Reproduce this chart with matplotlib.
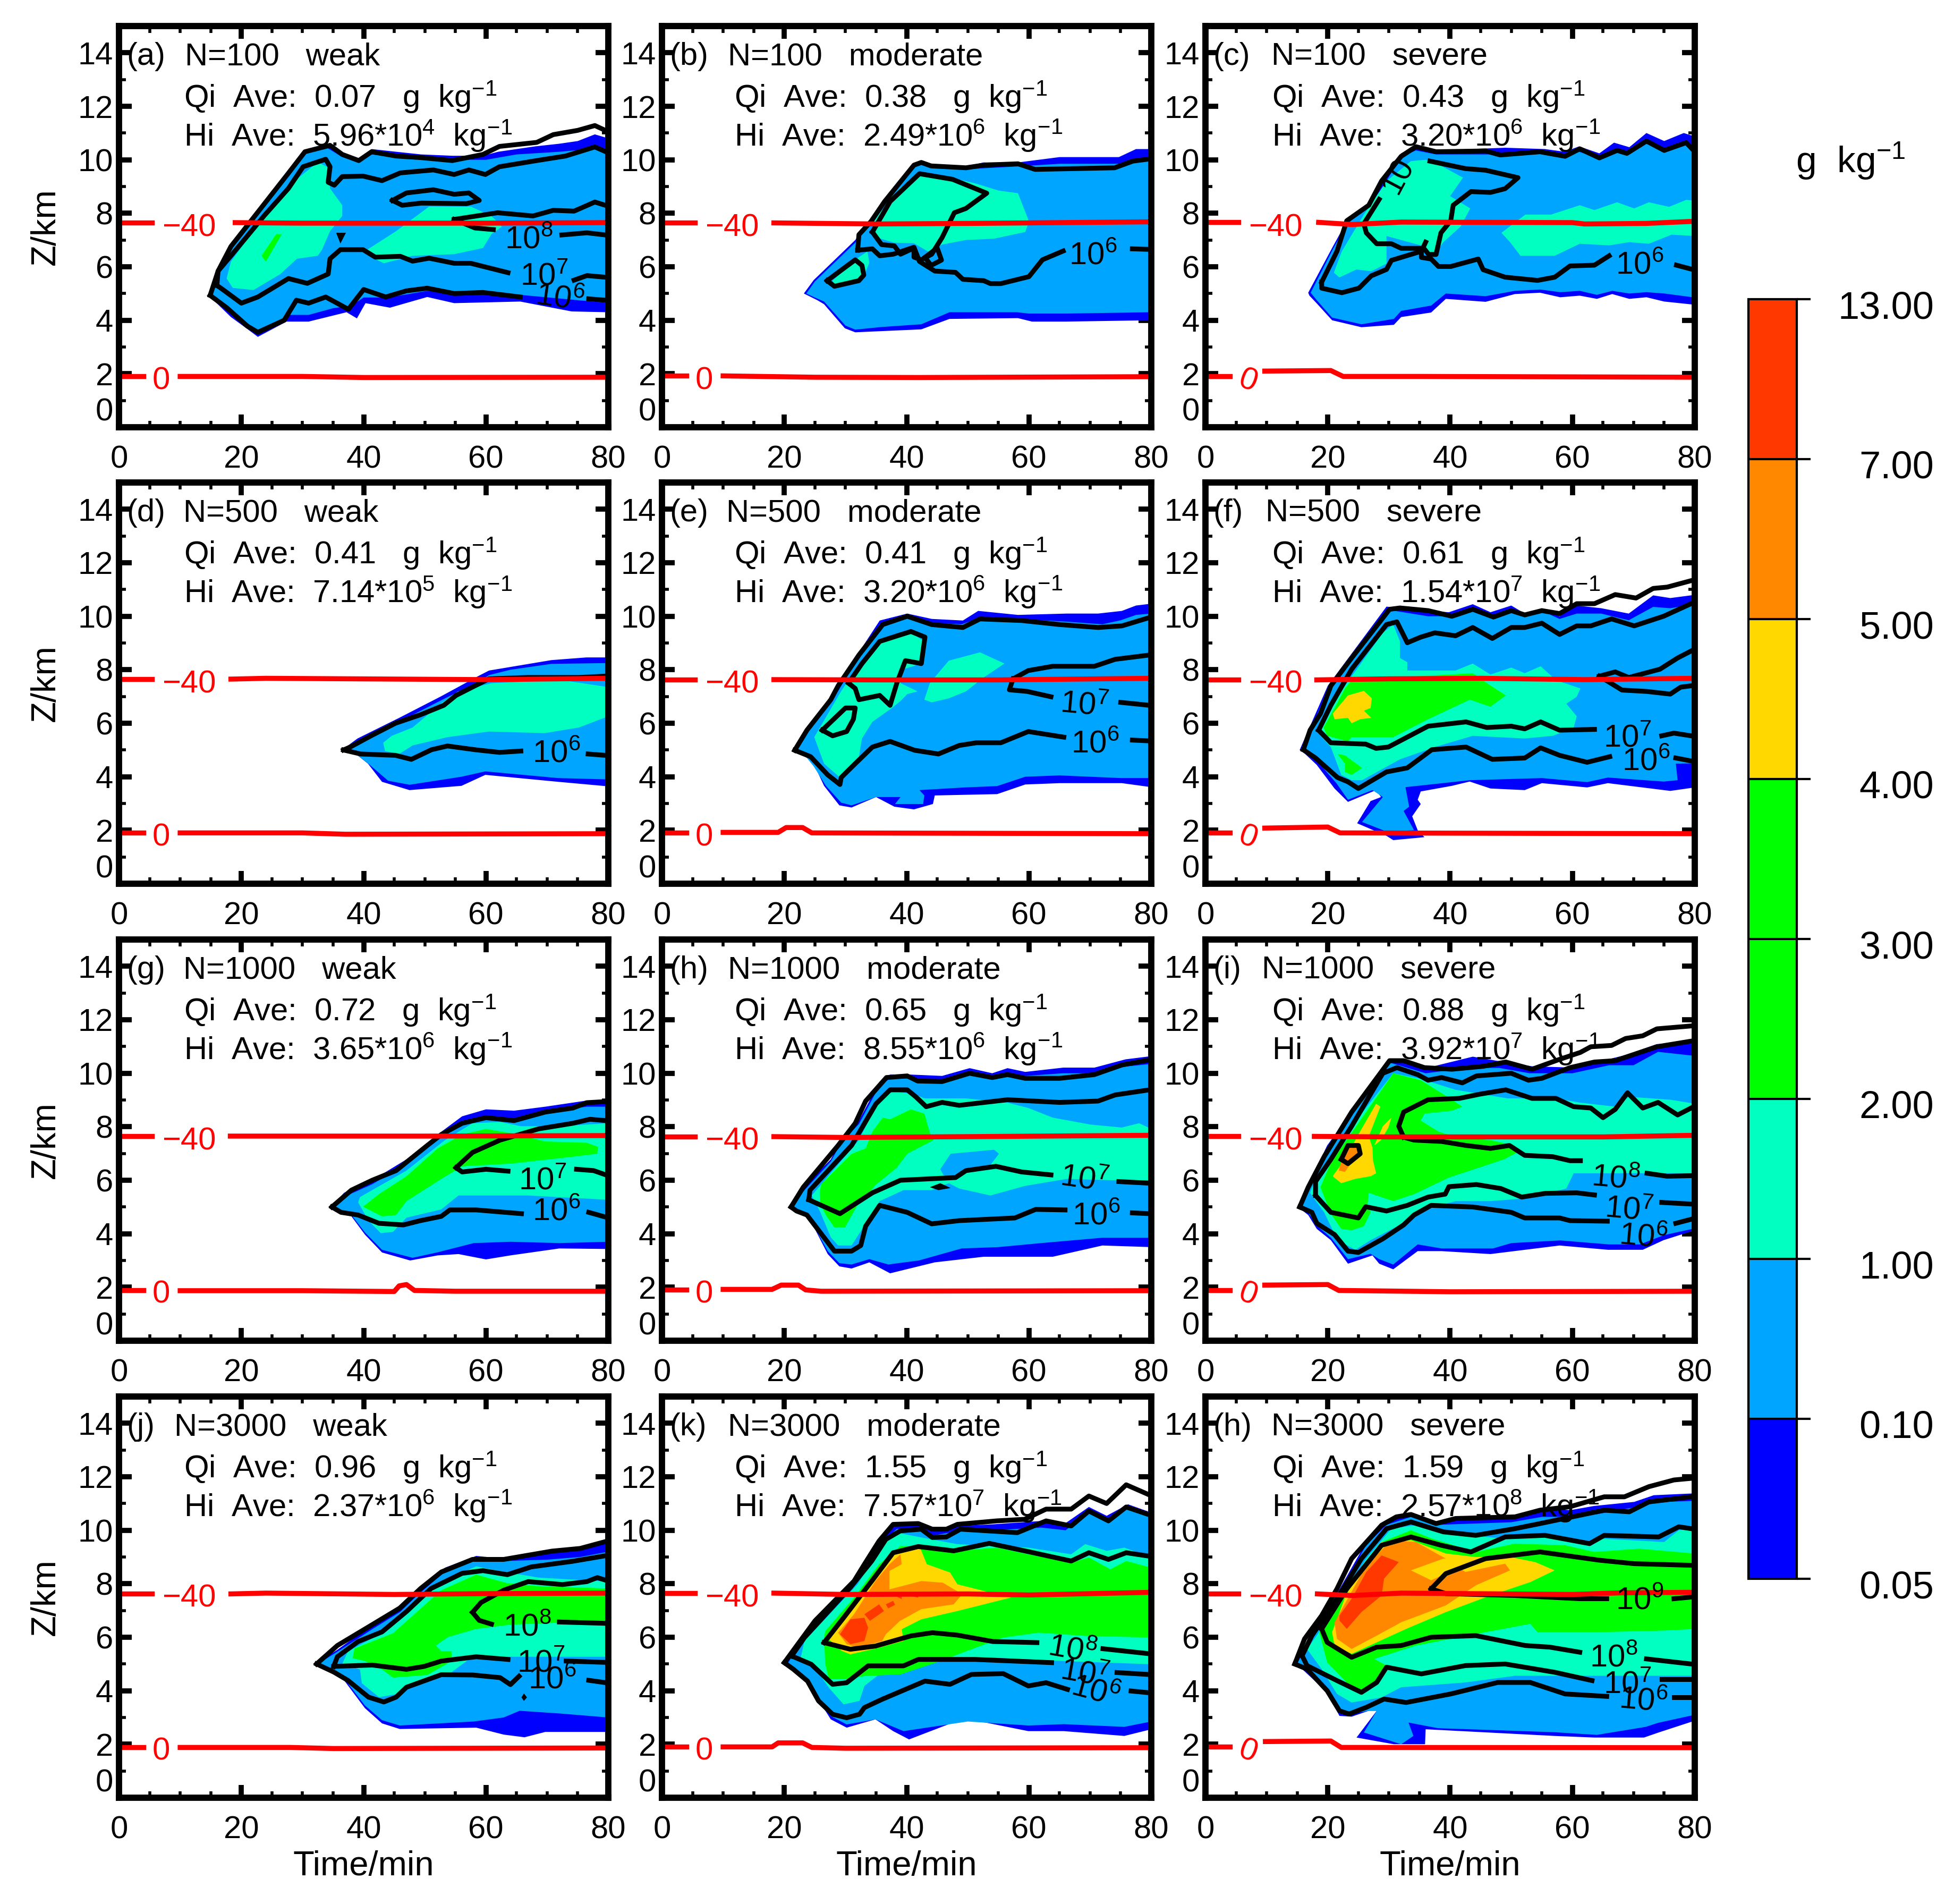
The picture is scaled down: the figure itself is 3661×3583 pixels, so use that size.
import matplotlib
matplotlib.use("Agg")
import matplotlib.pyplot as plt
from matplotlib.cm import ScalarMappable
from matplotlib.colors import BoundaryNorm, ListedColormap
from matplotlib.transforms import ScaledTranslation

plt.rcParams["font.family"] = ["Liberation Sans", "DejaVu Sans"]
plt.rcParams["mathtext.fontset"] = "custom"
plt.rcParams["mathtext.rm"] = "Liberation Sans"
plt.rcParams["mathtext.default"] = "regular"

# colour scale
q_levels = [0.05, 0.10, 1.00, 2.00, 3.00, 4.00, 5.00, 7.00, 13.00]
q_colors = ["#0000ff", "#00a5ff", "#00ffc0", "#00ff00", "#00ff00", "#ffd800", "#ff8800", "#ff3800"]

# panel text
titles = ["(a)", "(b)", "(c)", "(d)", "(e)", "(f)", "(g)", "(h)", "(i)", "(j)", "(k)", "(h)"]
n_values = ["100", "100", "100", "500", "500", "500", "1000", "1000", "1000", "3000", "3000", "3000"]
strengths = ["weak", "moderate", "severe"] * 4
qi_ave = ["0.07", "0.38", "0.43", "0.41", "0.41", "0.61", "0.72", "0.65", "0.88", "0.96", "1.55", "1.59"]
hi_mant = ["5.96", "2.49", "3.20", "7.14", "3.20", "1.54", "3.65", "8.55", "3.92", "2.37", "7.57", "2.57"]
hi_exp = ["4", "6", "6", "5", "6", "7", "6", "6", "7", "6", "7", "8"]

# (a) N=100 weak
a_q005 = [(14.5,4.93),(16.2,5.9),(18.3,6.85),(23,8.2),(27.7,9.6),(30,10.3),(34,10.6),(36.5,10.25),(39.2,10.05),(41.3,10.4),(45.3,10.3),(49.4,10.2),(54.5,10.15),(59.5,10.15),(62,10.3),(68,10.5),(72,10.6),(75,10.7),(77.8,10.95),(80,10.8),(80,4.3),(74,4.33),(65.6,4.7),(54.8,4.64),(50.4,4.87),(44.3,4.47),(40.3,4.64),(38.9,4.07),(37.2,4.3),(31,3.95),(27.4,3.95),(22.7,3.38),(21,3.67),(18.3,4.12),(15.2,4.81)]
a_q01 = [(15,4.9),(16.2,5.8),(18.3,6.75),(23,8.1),(27.7,9.5),(30,10.2),(34,10.45),(36.5,10.1),(39,9.95),(41.3,10.2),(45.3,10.1),(50,10),(55,10),(60,10),(65,10.2),(72,10.3),(77,10.4),(80,10.35),(80,4.65),(75,4.75),(65.6,4.95),(55,5),(50.4,5.1),(44,4.85),(40,4.85),(38,4.55),(35,4.45),(31,4.2),(28,4.2),(23,3.5),(21,3.8),(18,4.3),(15.5,4.8)]
a_q1a = [(17.6,5.56),(18.3,6.19),(23.7,7.9),(29.1,9.28),(32.5,9.91),(34.5,9.68),(34.5,8.93),(36.5,8.3),(36.5,7.9),(34.5,7.33),(33.2,6.64),(32.5,6.41),(29.1,6.3),(26.4,5.73),(22,5.13),(18.6,5.21)]
a_q1b = [(40.6,6.64),(45.3,7.33),(50.7,8.25),(57.5,8.25),(60.9,7.9),(62.6,7.5),(60.9,7.22),(59.5,6.7),(54.8,6.47),(48,6.41),(43.3,6.13),(41.3,6.36)]
a_q2 = [(23.3,6.41),(25.7,7.22),(26.6,7.22),(24,6.19)]
a_h6up = [(14.9,4.93),(16.2,5.84),(18.3,6.76),(23,8.13),(27.7,9.5),(30.4,10.3),(34.5,10.54),(36.5,10.2),(39.2,9.97),(41.3,10.3),(45.3,10.14),(49.4,10.08),(54.5,9.97),(59.5,10.2),(62.2,10.5),(68.3,10.65),(71,10.94),(75,11.1),(77.8,11.28),(79.5,11.1)]
a_h6lo = [(14.9,4.93),(17.6,4.47),(21,3.78),(22.7,3.55),(27,4),(29,4.75),(31,4.64),(33.8,4.87),(37.5,4.41),(40,5.15),(43.6,4.87),(47,5.1),(50.4,5.2),(54.8,5),(59.5,5.04),(65.6,4.87)]
a_h6end = [(76.8,4.8),(79.5,4.75)]
a_h7up = [(16,5.3),(16.2,5.84),(18.3,6.41),(23.7,7.9),(27.7,8.93),(30.1,9.74),(33.8,10.02),(34.5,9.74),(34.2,9.16),(35.2,9.05),(36.5,9.37),(39.9,9.39),(43,9.22),(46,9.51),(51.4,9.62),(54.8,9.45),(57.2,9.62),(59.9,9.45),(62.2,9.74),(68.3,9.97),(73,10.14),(77.8,10.48),(79.5,10.31)]
a_h7lo = [(16,5.3),(16.6,5.21),(20,4.64),(22.7,4.87),(27.7,5.56),(30.8,5.38),(34.2,5.73),(34.5,6.3),(36.2,6.64),(39.9,6.64),(41.9,6.36),(46,6.39),(48,6.21),(50.7,6.32),(54.8,6.13),(57.5,6.13),(63.6,5.78)]
a_h7end = [(74.4,5.5),(76.5,5.67),(79.5,5.61)]
a_h8up = [(54.8,7.77),(61.9,8.02),(67.7,7.9),(71,8.11),(74.4,8.08),(77.8,8.42),(79.5,8.3)]
a_h8lo = [(54.8,7.77),(58.2,7.45),(61.2,7.39)]
a_h8end = [(72.4,7.19),(76.5,7.27),(79.5,7.19)]
a_loop = [(44.7,8.48),(47,8.76),(51.4,8.88),(54.8,8.71),(57.2,8.76),(58.9,8.48),(56.8,8.36),(49.4,8.38),(46.3,8.3),(44.7,8.48)]
a_blob = [(35.5,7.27),(37.1,7.27),(36.2,6.87)]
a_r40 = [(19,7.65),(30,7.63),(60,7.63),(80,7.65)]
a_r0 = [(10,1.9),(30,1.9),(40,1.86),(80,1.87)]

# (b) N=100 moderate
b_q005 = [(23.2,5),(24.8,5.5),(31.6,7),(36.1,8.45),(41.2,9.85),(42.4,9.95),(44,9.8),(49.7,9.75),(52.6,9.9),(58.2,9.9),(65,10.1),(74.7,10.1),(77.5,10.4),(80,10.4),(80,4),(66,3.95),(60.5,3.95),(58.2,4.08),(47,4.05),(42.4,3.66),(31.6,3.55),(29.9,3.7),(26.5,4.6),(25.4,4.75)]
b_q01 = [(23.6,5),(25,5.45),(31.6,6.9),(36.1,8.35),(41.2,9.75),(42.4,9.85),(44,9.7),(50,9.65),(58,9.75),(65,9.85),(75,9.85),(78,10.05),(80,10.1),(80,4.3),(66,4.25),(60,4.25),(58,4.3),(47,4.3),(42.4,3.85),(36,3.75),(31.6,3.65),(30,3.8),(26.5,4.7),(25,4.85)]
b_q1a = [(34.4,7.6),(35.6,8),(39,8.96),(42.4,9.4),(47,9.35),(51.5,9.1),(55,8.85),(58.2,8.75),(60,7.7),(59.4,7.3),(54.3,7.05),(49.7,7),(45.8,6.83),(43.5,6.57),(41.2,6.88),(38,6.9),(35,7.1)]
b_q1b = [(27.9,5.48),(32.2,6.36),(33.6,6.57),(33.9,6.15),(32.7,5.48),(28.2,5.27)]
b_h6up = [(32,6.62),(32.2,7.2),(34.2,7.7),(36.4,8.44),(41.2,9.8),(42.4,9.9),(44,9.77),(49.7,9.7),(52.6,9.8),(58.2,9.85),(61,9.64),(74,9.7),(77,9.95),(79.7,10.03)]
b_h6lo = [(32,6.62),(34.4,6.67),(35.6,6.41),(37.8,6.47),(41.2,6.73),(42.1,6.2),(44.6,5.84),(48,5.79),(49.2,5.53),(52.6,5.48),(53.7,5.37),(55.4,5.37),(60,5.63),(62.2,6.26),(65.6,6.59)]
b_h6end = [(76.9,6.67),(79.7,6.65)]
b_h7a = [(34.4,7.3),(37.3,8.44),(42.1,9.48),(47.5,9.27),(53.1,8.75),(49.7,8.18),(47.8,8.02),(45.8,7.09),(44.1,6.47),(42.4,6.26),(41.2,6.36),(41.2,6.7),(39,6.47),(38,6.78),(35.9,6.83),(34.4,7.3)]
b_h7b = [(43,6.35),(45,6.7),(45.7,6.25),(44,6.05),(43,6.35)]
b_h7c = [(27,5.48),(31.6,6.26),(32.7,6.05),(33,5.69),(32.2,5.48),(28.2,5.27),(27,5.48)]
b_r40 = [(18.3,7.64),(35,7.6),(50,7.62),(80,7.68)]
b_r0 = [(10,1.92),(25,1.87),(42,1.86),(80,1.89)]

# (c) N=100 severe
c_q005 = [(16.8,5.03),(20.7,6.7),(23.1,7.7),(27.1,8.4),(32,10.24),(34.4,10.5),(37.7,10.35),(49,10.45),(55.5,10.4),(58.7,10.3),(61.1,10.5),(64.4,10.24),(66.8,10.64),(69.3,10.47),(72.1,11),(75,10.7),(78.2,11),(80,10.87),(80,4.58),(75,4.7),(72.1,4.86),(69.3,4.8),(66.5,4.98),(64,4.8),(61.2,4.92),(58,4.86),(54.7,5.03),(50.6,4.98),(45.8,4.69),(39.3,4.8),(36.9,4.29),(32,4.12),(30.8,3.83),(25.5,3.74),(20.7,4),(18.2,4.63),(17,4.92)]
c_q01 = [(17.2,5.03),(20.7,6.6),(23.1,7.6),(27.1,8.3),(32,10.1),(34.4,10.35),(37.7,10.2),(49,10.2),(55.5,10.25),(58.7,10.15),(61.1,10.3),(64.4,10.05),(66.8,10.3),(69.3,10.2),(72.1,10.6),(75,10.35),(78.2,10.6),(80,10.4),(80,4.85),(75,5),(72.1,5.05),(69.3,5),(66.5,5.1),(64,4.95),(61.2,5.1),(58,5.05),(54.7,5.15),(50.6,5.1),(45.8,4.9),(39.3,5),(36.9,4.55),(32,4.35),(30.8,4.05),(25.5,3.85),(20.7,4.1),(18.2,4.75)]
c_q1a = [(21,5.78),(22.3,6.58),(25.9,7.95),(29.6,9.2),(33.6,9.95),(36,10),(38.5,9.78),(42.1,9.33),(40,8.64),(43.3,8.18),(41.7,7.5),(38.9,6.92),(37.3,6.41),(35.2,6.8),(29.6,7.15),(29.6,6.12),(27.1,5.83),(24.7,5.9),(21.9,5.6)]
c_q1b = [(48.4,7.27),(52.3,7.95),(56.5,7.95),(61.2,8.3),(63.6,8.12),(67.3,8.41),(70.1,8.18),(72.5,8.41),(75.8,8.24),(78.6,8.5),(80,8.47),(80,7.15),(76.2,7.2),(72.5,6.86),(69.3,6.92),(66,6.8),(61.2,6.86),(57.1,6.41),(51.5,6.41),(49.8,6.92)]
c_h6up = [(19,5.43),(21.5,6.58),(23.1,7.72),(26.7,8.3),(28.8,9.21),(32,10.13),(34.4,10.49),(37.7,10.3),(45.8,10.33),(48.2,10.18),(54.7,10.3),(58.8,10.13),(61.2,10.41),(64.4,10.07),(67.3,10.35),(68.9,10.24),(72.1,10.7),(75,10.35),(78.6,10.64),(79.8,10.35)]
c_h6lo = [(19,5.43),(19,5.2),(22.3,5.03),(25.1,5.2),(27.1,5.66),(29.6,5.9),(30.4,6.24),(35.3,6.58),(36,6.92)]
c_h7 = [(36.7,9.95),(42.5,9.67),(45.8,9.61),(51.1,9.33),(49,8.92),(46.6,8.78),(43.4,8.81),(40.5,8.3),(40.1,7.72),(38.5,7.27),(37.7,6.46),(36.5,6.46),(35.7,6.69),(32,6.69),(30.4,6.86),(28,6.86),(26.3,7.27),(25.9,7.61),(28.4,8.52)]
c_h6b = [(35.3,6.58),(35.3,6.35),(36.9,6.29),(38.1,6.01),(40.1,6.01),(44.6,6.29),(45.4,5.89),(49,5.61),(54.3,5.49),(57.1,5.61),(59.6,6.03),(63.6,6.06),(66,6.41)]
c_h6end = [(77,6.06),(79.8,5.89)]
c_r40 = [(18.5,7.66),(24,7.58),(32,7.67),(60,7.65),(62,7.6),(72,7.62),(80,7.7)]
c_r0 = [(9.7,2.1),(20.5,2.12),(22.5,1.9),(35,1.9),(80,1.87)]

# (d) N=500 weak
d_q005 = [(36.4,4.99),(39,5.43),(45.8,6.2),(52.6,7),(58.8,7.77),(60.5,7.97),(63.9,8.1),(70.7,8.36),(76.4,8.46),(80,8.46),(80,3.64),(71.8,3.81),(59.9,4.07),(56,3.66),(47.5,3.5),(43,3.81),(40.7,4.49),(39,4.8)]
d_q01 = [(37,5),(39,5.3),(45.8,6.05),(52.6,6.85),(58.8,7.55),(60.5,7.8),(64,8),(70.7,8.22),(80,8.25),(80,3.9),(71.8,3.95),(59.9,4.2),(56,4),(47.5,3.7),(44,3.85),(40.7,4.5),(39,4.8)]
d_q1 = [(43.2,5.27),(44.6,5.53),(48,5.84),(52.6,6.73),(55.4,7.19),(61,7.5),(72.4,7.61),(80,7.35),(80,6.26),(75.2,5.84),(69.6,5.63),(60.5,5.69),(53.7,5.48),(48,5.17),(45.8,4.85),(43.5,4.96)]
d_h6up = [(36.7,5),(37.8,5.11),(41.2,5.53),(45.2,6),(49.2,6.31),(53.1,6.67),(55.1,7.04),(58.2,7.4),(60.5,7.66),(66.7,7.71),(75.2,7.71),(79.5,7.76)]
d_h6lo = [(36.7,5),(39.5,4.85),(45.2,4.8),(47.8,4.65),(51.1,5.01),(53.7,5.15),(58.2,5.01),(62.2,4.91),(65.7,4.96)]
d_h6end = [(76.7,4.85),(79.5,4.8)]
d_r40 = [(18.3,7.65),(24,7.68),(60,7.63),(80,7.68)]
d_r0 = [(10,1.9),(30,1.9),(37,1.85),(80,1.87)]

# (e) N=500 moderate
e_q005 = [(21.4,5),(23.7,5.84),(28.8,7.3),(32.2,8.65),(35.6,9.84),(40.1,10.1),(44.1,9.9),(49.2,9.84),(51.7,10.2),(58.2,10.05),(66.2,10.1),(71.3,10.1),(75.2,10.2),(77.5,10.4),(80,10.47),(80,3.61),(75.2,3.76),(65,3.76),(59.4,3.71),(54.8,3.35),(44.6,3.3),(44.3,2.98),(41.2,2.78),(38,2.88),(35,3.24),(31,2.85),(29,2.93),(26.5,3.66),(24.8,4.49),(23.7,4.8)]
e_q01 = [(22,5),(23.7,5.7),(28.8,7.2),(32.2,8.5),(35.6,9.7),(40.1,10),(44,9.75),(49,9.7),(52,9.95),(58,9.9),(66,9.8),(72,9.7),(75,9.85),(77.5,10.05),(80,10.1),(80,3.95),(75,3.95),(65,4.05),(59.4,4),(54.8,3.65),(49.5,3.6),(42.1,3.5),(42.9,3.3),(42.7,2.98),(38.1,2.98),(39,3.24),(35,3.24),(31,2.93),(29.3,3.03),(26.8,3.66),(24.8,4.39),(23.7,4.7)]
e_q1a = [(24.9,5.48),(29.3,7.2),(32.7,8.34),(35.6,9.17),(40.7,9.38),(42.9,9.06),(42.4,8.23),(39.5,8.02),(39,7.5),(41.8,7.19),(40.1,7.09),(39,6.83),(37.6,6.57),(34.4,6.05),(32.7,5.43),(32.2,4.75),(29.1,3.97),(26.5,4.49)]
e_q1b = [(42.9,6.88),(43.8,7.5),(46.9,8.34),(52,8.65),(56,8.23),(52.6,7.71),(49.7,7.19),(46.9,6.93),(44.1,6.78)]
e_h6up = [(21.7,4.99),(23.7,5.74),(27.6,6.88),(28.8,7.4),(32.2,8.55),(36.1,9.69),(40.1,10),(44.1,9.69),(49.2,9.58),(52,9.9),(58.8,9.84),(65,9.69),(71.3,9.58),(75.2,9.64),(79.7,9.95)]
e_h6lo = [(21.7,4.99),(24.3,4.75),(27.1,4.07),(29.1,3.71),(29.3,3.97),(31.6,4.49),(34.4,5.11),(37.3,5.32),(41.3,4.99),(45.2,4.85),(48.6,5.17),(51.4,5.27),(55.4,5.27),(59.9,5.69),(65.7,5.48)]
e_h6end = [(76.9,5.37),(79.7,5.34)]
e_h7a = [(30.5,7.5),(32.7,8.23),(35.6,9.06),(40.7,9.43),(43,9.22),(42.4,8.23),(39.8,8.34),(38.4,7.5),(37.3,6.67),(35.6,7.04),(32.2,6.88),(31.6,7.3),(30.5,7.5)]
e_h7b = [(26.2,5.74),(30,6.57),(31.6,6.57),(31.3,6.15),(30.2,5.69),(27.9,5.53),(26.2,5.74)]
e_h7up = [(57.4,7.66),(59.9,7.97),(63.9,8.13),(70.7,8.13),(74.1,8.39),(79.7,8.55)]
e_h7lo = [(57.4,7.66),(56.8,7.25),(59.7,7.19),(63.6,6.99)]
e_h7end = [(75,6.78),(79.7,6.67)]
e_r40 = [(18.3,7.63),(35,7.62),(55,7.62),(80,7.68)]
e_r0 = [(10,1.92),(19,1.92),(20.3,2.1),(23,2.1),(24.5,1.9),(80,1.87)]

# (f) N=500 severe
f_q005 = [(15.4,5),(20,7.4),(29.6,10.36),(36.4,10.2),(39.8,10.15),(43.7,10.45),(46.6,10.15),(50,10.4),(52.2,10.1),(55,10.3),(57.9,10),(60.7,10.4),(64.7,10.3),(69.2,10.1),(73.2,10.78),(76,10.68),(80,10.8),(80,3.6),(76,3.47),(65.8,3.76),(62.4,3.6),(55,3.76),(52.2,3.5),(46.6,3.56),(43.2,3.82),(40.3,3.66),(35.2,3.45),(34.7,3.14),(35.2,2.98),(33.8,2.52),(34.7,2),(35.8,1.74),(30.7,1.63),(29.6,1.79),(24.8,2.26),(27,3.09),(28.7,3.24),(27.9,3.5),(23.3,3.06),(21.1,3.56),(18.2,4.44),(16.3,4.85)]
f_q01 = [(15.9,5),(20,7.3),(29.6,10.25),(36.4,10),(39.8,10),(43.7,10.25),(46.6,10),(50,10.2),(52.2,10),(55,10.2),(57.9,9.9),(60.7,10.1),(64.7,10.1),(69.2,9.85),(73.2,10.35),(76,10.3),(80,10.45),(80,4.5),(76.9,4.49),(77.2,3.87),(74.9,3.82),(65.8,3.97),(62.4,3.8),(55,3.95),(43.2,3.87),(32.7,3.61),(33.3,2.88),(32.4,2.72),(34.1,2),(29.6,1.95),(25.6,2.31),(29,3.24),(27.3,3.5),(23.3,3.14),(21.4,3.76),(18.2,4.6)]
f_q1 = [(18.2,5.74),(19.9,6.47),(29,9.38),(30.7,9.69),(31.8,9.06),(31.8,8.44),(33,8.28),(33,7.97),(40.9,7.97),(43.7,8.23),(46.6,7.82),(50,8.08),(52.2,7.87),(54.8,8.13),(57.3,7.61),(61.3,7.3),(60.7,6.99),(59,6.73),(60.7,6.26),(60.2,5.84),(56.8,5.53),(52.2,5.43),(43.7,5.53),(37.5,5.11),(31.8,4.65),(25.6,3.87),(23.9,3.87),(22.2,4.07),(20.5,5.11),(18.8,5.53)]
f_q2a = [(19.3,5.84),(21.1,6.57),(22.8,7.3),(23.9,7.61),(43.7,7.87),(46,7.5),(49.1,7.04),(46.6,6.62),(43.2,6.88),(36.4,6.15),(30.7,5.48),(23.9,5.48),(23.3,5.32),(19.9,5.53)]
f_q2b = [(21.6,4.85),(22.8,4.8),(25.6,4.33),(23.9,4.07),(22.8,4.18),(22.8,4.49)]
f_q4 = [(20.8,6.36),(23.3,7.04),(25.9,7.21),(27.2,6.93),(27,6.57),(25.9,6.47),(27.1,6.2),(25.3,6.15),(23.9,6),(23.3,6.2),(21.1,6.15)]
f_h6up = [(16,5.01),(17.1,5.74),(18.8,6.36),(20.5,7.4),(23.9,8.44),(30.1,10.26),(31.8,10.31),(36.4,10.21),(40.3,10),(43.7,10.26),(47.1,9.97),(50,10.21),(52.2,10.05),(55,10.21),(57.9,10.1),(60.7,10.47),(63.6,10.47),(67,10.81),(70.4,10.68),(73.2,11.04),(75.5,11.09),(79.4,11.33)]
f_h6lo = [(16,5.01),(18,4.7),(21.6,3.97),(23.3,3.81),(25,3.56),(29.6,4.18),(33,4.33),(37,5.01),(42.6,5.11),(46.9,4.65),(52.2,4.7),(54.8,5.08),(57.9,4.8),(62.4,4.54),(66.1,4.75)]
f_h6end = [(76.9,4.7),(79.4,4.59)]
f_h7up = [(18.5,5.74),(20.5,6.67),(23.9,8.02),(29.6,9.69),(31.3,9.79),(33,9.01),(35.2,9.22),(37.5,9.38),(40.9,9.27),(43.7,9.58),(46.9,9.17),(50,9.58),(52.2,9.58),(55,9.74),(57.9,9.32),(60.7,9.64),(63,9.64),(66.4,9.9),(70.1,9.64),(74.9,10),(79.4,10.47)]
f_h7lo = [(18.5,5.74),(20.5,5.27),(26.2,5.22),(27.9,5.06),(29.9,5.11),(36.4,5.89),(42.6,6.05),(46,5.84),(50,5.89),(52.2,5.79),(54.8,6.05),(57.9,5.74),(63.6,5.77)]
f_h7end = [(74.6,5.53),(76.6,5.63),(79.4,5.53)]
f_h8up = [(64.4,7.76),(67,7.92),(69.2,7.71),(74.3,8.02),(77.2,8.44),(79.4,8.7)]
f_h8lo = [(64.4,7.76),(68.1,7.24),(72.1,7.19),(76,7.09),(77.7,7.35),(79.4,7.4)]
f_r40 = [(18.2,7.62),(30,7.66),(45,7.68),(62,7.63),(80,7.68)]
f_r0 = [(9.7,2.08),(20,2.12),(22,1.9),(80,1.87)]

# (g) N=1000 weak
g_q005 = [(34.6,5),(36.8,5.53),(41.4,6),(47,6.78),(52.1,7.71),(56.1,8.39),(60,8.65),(64.6,8.6),(69.7,8.75),(76.5,8.98),(80,8.96),(80,3.43),(72,3.45),(64,3.19),(60,3.04),(55.5,3.24),(52.1,3.19),(47.6,3),(43,3.3),(40.2,3.97),(38,4.65)]
g_q01 = [(35.2,5),(37,5.4),(41.4,5.85),(47,6.6),(52,7.5),(56,8.1),(60,8.3),(64.6,8.3),(70,8.55),(76.5,8.75),(80,8.75),(80,3.7),(72,3.65),(64,3.7),(58,3.65),(52,3.3),(48,3.1),(43,3.4),(40.2,4.05),(38,4.7)]
g_q1 = [(39.1,5.17),(39.4,5.37),(47,6.36),(53.3,7.5),(57.8,8.13),(62.3,8.18),(65.7,8.02),(72,8.02),(80,8.13),(80,5.27),(66.9,5.43),(55.5,5.43),(52.7,4.91),(47,4.6),(44.8,4.07),(42.8,4.02),(40.8,4.49)]
g_q2 = [(39.9,5.01),(42.5,5.48),(47,6.15),(52.1,7.19),(56.1,7.71),(60,7.92),(64,7.76),(69.7,7.45),(76.5,7.4),(78.3,7.25),(78.2,6.99),(74.2,6.88),(64,6.62),(56.1,6.52),(52.7,6.05),(47,5.22),(45.3,4.7),(43,4.65)]
g_h6up = [(34.8,5),(38,5.63),(41.4,6),(45.3,6.36),(50.4,7.3),(52.7,7.71),(56.1,8.13),(60,8.34),(64.6,8.23),(69.7,8.55),(74.2,8.7),(76.5,8.9),(79.6,8.94)]
g_h6lo = [(34.8,5),(36.3,4.8),(39.1,4.7),(42.5,4.39),(46.5,4.33),(49.3,4.49),(52.7,4.65),(54.1,4.89),(58.4,4.89),(65.8,4.75)]
g_h6end = [(76.8,4.8),(79.6,4.62)]
g_h7up = [(55.1,6.47),(57.8,7.04),(62.3,7.5),(68.6,7.92),(74.2,8.13),(77,8.28),(79.6,8.23)]
g_h7lo = [(55.1,6.47),(56.1,6.31),(60,6.41),(63.6,6.34)]
g_h7end = [(74.8,6.41),(77.6,6.36),(79.6,6.2)]
g_r40 = [(18.2,7.65),(50,7.65),(80,7.67)]
g_r0 = [(10,1.87),(30,1.87),(45,1.84),(45.8,2.05),(47,2.1),(48.3,1.88),(55,1.85),(80,1.85)]

# (h) N=1000 moderate
h_q005 = [(20.9,5),(22.6,5.63),(27.6,6.78),(29.3,7.5),(32.2,8.23),(35.6,9.69),(37.3,9.95),(40.7,9.95),(45.8,9.9),(50.3,10.19),(54,10),(56.5,10.19),(59.4,10.05),(65.6,10.21),(70.7,10.21),(75.8,10.52),(80,10.64),(80,3.5),(72,3.56),(63.9,3.14),(52.6,3.14),(44.6,2.93),(37.3,2.52),(33.9,2.93),(31,2.7),(29,2.78),(27.1,3.24),(24.3,4.49),(22.6,4.8)]
h_q01 = [(21.4,5),(23,5.55),(27.6,6.7),(29.3,7.4),(32.2,8.1),(35.6,9.55),(37.3,9.8),(40.7,9.8),(46,9.75),(50.3,10),(54,9.85),(56.5,10),(59.4,9.9),(65.6,10),(70.7,10),(75.8,10.25),(80,10.35),(80,3.85),(72,3.85),(62,3.65),(55,3.5),(49,3.45),(42,3),(37,2.85),(33.9,3.05),(31,2.85),(29,2.9),(27.1,3.35),(24.8,4.3),(23.6,4.7)]
h_q1 = [(24.5,5.43),(32.2,7.5),(35.6,9.06),(37.8,9.32),(41.2,9.22),(42.9,9.06),(49.7,9.06),(56.5,8.9),(59.9,8.7),(63.9,8.34),(70.1,8.08),(75.2,7.97),(78,8.13),(80,7.92),(80,6),(73.5,6),(66.2,6.05),(59.4,5.79),(53.7,5.43),(48.6,5.69),(46.9,5.89),(44.1,5.63),(39.5,5.63),(35.6,5.22),(33.6,4.49),(31,3.56),(28.8,3.56),(27.6,3.87),(25.9,4.8)]
h_q01b = [(45.5,6.41),(47.2,6.99),(54.3,7.14),(55.1,6.99),(53.7,6.57),(49.7,6.36),(46.9,6.1),(46,6.2)]
h_q2 = [(25.8,5.53),(26,5.84),(31,6.99),(33.3,7.19),(34.4,7.82),(36.1,8.34),(37.3,8.28),(40.7,8.65),(42.9,8.49),(43.8,7.77),(44.4,7.5),(40.1,6.99),(38.4,6.47),(35,5.84),(31.8,5.01),(29.9,4.23),(28.2,4.23),(26.8,4.7),(25.9,5.11)]
h_h6up = [(21.1,5),(23.1,5.74),(28.8,7.3),(31.6,8.13),(33.3,8.96),(36.7,9.84),(40.1,9.9),(41.8,9.71),(45.8,9.69),(50.3,10),(54,9.84),(56.5,9.95),(59.4,9.81),(65,9.81),(70.7,9.95),(75.2,10.31),(79.7,10.5)]
h_h6lo = [(21.1,5),(22,4.85),(23.7,4.7),(28.2,3.35),(31,3.35),(32.5,3.56),(33.3,4.28),(35.6,5.06),(40.1,4.8),(44.1,4.37),(48.6,4.49),(57.7,4.59),(61.1,4.91),(65.9,4.89)]
h_h6end = [(76.9,4.78),(79.7,4.75)]
h_h7up = [(24,5.27),(24.2,5.63),(31,7.3),(35,8.86),(37.3,9.38),(40.1,9.38),(41.5,9.12),(43.2,8.75),(45.8,8.91),(48.6,8.8),(56.5,9.01),(65,8.91),(71.3,8.96),(74.1,9.19),(79.7,9.38)]
h_h7lo = [(24,5.27),(29.1,4.75),(34.4,5.53),(39,6),(48,6.1),(49.7,6.36),(54.6,6.52),(58.8,6.31),(63.6,6.2)]
h_h7end = [(74.7,5.95),(79.7,5.89)]
h_blob = [(43.8,5.74),(45.5,5.89),(47.2,5.71),(45.2,5.63)]
h_r40 = [(18.3,7.63),(30,7.6),(50,7.63),(80,7.68)]
h_r0 = [(10,1.92),(18,1.92),(19.5,2.08),(22.3,2.08),(23.5,1.9),(26,1.85),(80,1.87)]

# (i) N=1000 severe
i_q005 = [(15.1,5),(19.9,7.3),(23.9,8.55),(30.1,10.52),(36.4,10.21),(43.7,10.62),(48.8,10.42),(53.4,10.26),(60.2,10.21),(68.7,10.68),(73.8,11.09),(80,11.14),(80,4.13),(74.9,3.76),(71.5,3.4),(65.8,3.4),(57.9,3.56),(46.6,3.24),(38.6,3.35),(34.7,3.35),(30.7,2.67),(28.4,2.88),(27.3,3.19),(23.3,2.88),(20.5,3.76),(18.2,4.18),(16.8,4.7)]
i_q01 = [(15.7,5),(20,7.2),(23.9,8.4),(30.1,10.4),(36,10),(43,10.2),(48,10.2),(53,10),(60,10),(66,10.3),(70,10.3),(74,10.8),(80,10.65),(80,4.2),(75,3.95),(71,3.6),(66,3.6),(58,3.75),(50,3.65),(47,3.45),(38.6,3.45),(34.7,3.6),(30.7,2.85),(28.4,3.05),(27,3.25),(23.3,3.05),(20.5,3.85),(18.2,4.3),(16.8,4.8)]
i_q1 = [(17.1,5.53),(18.2,6.15),(23.9,8.02),(30.7,10),(35.2,9.79),(40.9,9.38),(49.4,9.06),(57.3,9.06),(61.3,8.9),(67,8.75),(69.2,9.12),(76,9.01),(80,8.86),(80,6.26),(60.2,6.26),(59,5.69),(52.2,5.32),(46.6,5.22),(40.9,5.22),(34.1,4.8),(31.8,4.33),(27,3.76),(24.5,3.4),(21.6,3.76),(19.4,4.8)]
i_q2 = [(18.8,5.74),(20.5,6.67),(30.7,10),(35.2,9.74),(39.2,9.17),(42,8.75),(40.3,8.6),(35.8,8.49),(35.2,8.23),(38.1,7.82),(40.9,7.61),(46.6,7.5),(50.5,7.3),(51.4,7.09),(48.8,6.78),(39.8,6.1),(34.1,5.48),(30.7,5.22),(26.7,5.53),(26.5,5.11),(27,4.8),(25.9,4.28),(23.9,4.13),(22.2,4.18),(20.5,4.75)]
i_q4a = [(20.8,6.15),(22.8,6.78),(25,7.71),(27.9,8.86),(28.6,8.75),(26.7,7.64),(27.3,7.22),(27.4,6.73),(27.9,6.26),(27,6.15),(24.5,6.05),(22.2,5.89)]
i_q4b = [(27.6,7.3),(29,8.02),(30.4,8.34),(29.9,7.97),(28.7,7.5)]
i_q5a = [(21.8,6.36),(22.2,6.73),(23.6,6.57),(22.8,6.31)]
i_q5b = [(22.2,6.78),(23.3,7.3),(25,7.3),(25.3,6.99),(23.3,6.62)]
i_h6up = [(15.4,5),(16.8,5.74),(19.4,6.88),(23.9,8.55),(30.1,10.47),(32.4,10.47),(35.8,10.21),(40.3,10.15),(45.4,10.26),(49.1,10.42),(53.4,10.15),(57.9,10.52),(61.3,10.78),(63,10.99),(66.4,11.04),(68.7,11.3),(71.5,11.4),(73.8,11.66),(79.5,11.77)]
i_h6lo = [(15.4,5),(17.4,4.8),(18.2,4.39),(21.1,3.97),(23.3,3.35),(25,3.3),(29,3.81),(32.4,4.33),(34.1,4.7),(36.9,5.06),(43.7,5),(50,4.8),(52.2,4.59),(57.9,4.59),(59.6,4.49),(65.7,4.47)]
i_h6end = [(76.9,4.39),(79.4,4.54)]
i_h7up = [(18,5.43),(18,5.95),(20.5,6.78),(23.9,8.02),(29,10),(31.3,10.21),(34.7,9.95),(36.4,9.74),(38.6,9.84),(42,9.64),(44.3,9.9),(50,10),(52.8,9.74),(55,9.81),(59.6,10.21),(63.6,10.42),(67,10.47),(70.4,10.73),(73.8,10.99),(79.4,11.2)]
i_h7lo = [(18,5.43),(20.5,4.8),(25,4.59),(26.2,5.01),(29.6,4.85),(33,5.06),(36.4,5.37),(39.2,5.48),(39.8,5.76),(44.3,5.84),(48.3,5.69),(51.7,5.37),(55.6,5.51),(60.7,5.53),(63.6,5.45)]
i_h7end = [(74.6,5.17),(79.4,5.11)]
i_h8up = [(32.4,7.61),(31.6,8.02),(32.4,8.55),(36.4,9.01),(41.5,9.06),(44.9,9.22),(49.1,9.38),(53.4,9.06),(57.3,9.06),(60.2,8.75),(63,8.7),(65,8.34),(67,8.65),(69,9.27),(71.5,8.7),(74,8.91),(77.2,8.44),(79.4,8.7)]
i_h8lo = [(32.4,7.61),(34.1,7.5),(38.6,7.45),(42.6,7.3),(46.6,7.19),(49.7,7.3),(52.2,6.93),(56.8,6.88),(59.6,6.73),(61.3,6.73)]
i_h8end = [(72.2,6.26),(75.5,6.15),(79.4,6.17)]
i_loop = [(22.2,6.78),(23.3,7.3),(25,7.3),(25.3,6.99),(23.3,6.62),(22.2,6.78)]
i_r40 = [(17.8,7.64),(30,7.62),(50,7.62),(65,7.62),(80,7.68)]
i_r0 = [(9.7,2.08),(20,2.1),(21.8,1.88),(40,1.83),(80,1.85)]

# (j) N=3000 weak
j_q005 = [(32,5),(35.7,5.53),(41.4,6.47),(45.9,7.09),(48.7,7.71),(53.3,8.6),(58.4,9.04),(62.9,8.94),(70.8,9.25),(75.4,9.35),(80,9.67),(80,2.46),(69.7,2.46),(66.3,2.26),(62.9,2.36),(58.4,2.62),(45.9,2.57),(43,2.78),(40.2,3.35),(36.8,4.39),(35.1,4.7)]
j_q01 = [(32.5,5),(36,5.5),(41.4,6.3),(46,6.95),(48.7,7.55),(53.3,8.45),(58.4,8.9),(62.9,8.85),(70,8.9),(75.4,9),(80,9.2),(80,3),(72,3.15),(65.5,3.25),(62.9,3),(58,2.85),(50,2.75),(45.9,2.7),(43,2.9),(40.2,3.45),(37,4.4),(35.1,4.75)]
j_q1 = [(36.5,5),(37.4,5.46),(43.6,6.24),(52.7,8.08),(58.4,8.65),(63.2,8.44),(68.6,8.23),(80,8.08),(80,5.27),(69.7,5.27),(57.8,5.27),(54.4,4.7),(50.4,4.39),(45.3,3.87),(42.5,3.76),(39.7,4.28),(39.4,4.8)]
j_q2 = [(38.2,5.22),(38.5,5.58),(44.8,6.15),(52.7,7.76),(58.4,8.34),(63.5,8.02),(68,7.92),(80,7.82),(80,6.62),(64,6.47),(58.4,6.31),(53.8,6.01),(51.8,5.69),(52.7,5.48),(54.4,5.48),(54.4,5.11),(50.4,4.59),(44.8,4.49),(43,4.8),(40.2,5.11)]
j_h6up = [(32.3,5),(35.7,5.69),(41.4,6.47),(45.9,7.09),(49.3,7.82),(52.7,8.44),(57.8,8.91),(62.9,8.91),(70.8,9.22),(75.4,9.32),(79.6,9.58)]
j_h6lo = [(32.3,5),(35.1,4.7),(37.4,4.39),(40.8,3.76),(43.3,3.58),(45.3,3.76),(47,4.13),(52.7,4.6),(57.8,4.59),(62.3,4.49),(64,4.23),(65.4,4.54)]
j_h6end = [(76.8,4.39),(79.6,4.3)]
j_h7up = [(35.1,4.91),(35.7,5.27),(39.1,5.84),(43,6.2),(47,6.96),(51,7.82),(56.1,8.39),(59.5,8.49),(63.5,8.34),(67.4,8.63),(74.2,8.84),(79.6,9.05)]
j_h7lo = [(35.1,4.91),(41.4,4.96),(47,4.8),(49.9,4.91),(52.7,5.11),(58.4,5.27),(63.6,5.17)]
j_h7end = [(73.1,5.11),(79.6,5.06)]
j_h8up = [(57.8,6.93),(59.2,7.3),(62.9,7.76),(66.9,8.08),(72.5,7.97),(76.5,8.08),(78.2,8.23),(79.6,8.13)]
j_h8lo = [(57.8,6.93),(58.9,6.63),(60.9,6.49)]
j_h8end = [(72,6.57),(79.6,6.52)]
j_blob = [(65.8,3.75),(66.2,3.9),(66.7,3.75),(66.2,3.62)]
j_r40 = [(18.3,7.62),(24,7.65),(45,7.6),(60,7.63),(80,7.65)]
j_r0 = [(10,1.88),(28,1.88),(35,1.84),(80,1.86)]

# (k) N=3000 moderate
k_q005 = [(19.8,5.05),(25,6.73),(31.4,8.1),(35.5,9.6),(38.4,10.22),(41.9,10.22),(44.2,9.98),(48.3,10.16),(54,10.22),(62.2,10.35),(65.7,10.22),(69.8,10.87),(72.7,10.54),(76.2,10.97),(80,10.66),(80,2.56),(75.6,2.31),(65.7,2.49),(59.9,2.49),(49.4,2.97),(40.4,2.18),(37.8,2.49),(34.9,2.93),(30.2,2.62),(27.6,2.93),(25,3.87),(23.3,4.61),(20.6,4.86)]
k_q01 = [(20.5,5),(25,6.6),(31.4,7.95),(35.5,9.45),(38.4,10.05),(42,10.05),(44.2,9.8),(48,9.95),(54,10),(62,10.1),(66,10),(70,10.7),(73,10.35),(76,10.8),(80,10.5),(80,2.85),(75.6,2.65),(65.7,2.75),(59.9,2.7),(50,2.85),(39.5,2.49),(34.9,2.93),(30.2,2.74),(27.6,3.05),(24.4,3.99),(22.7,4.68),(20.9,4.86)]
k_q1 = [(22.7,5.24),(23.3,5.86),(32,7.98),(36,9.48),(38.4,9.91),(42.4,9.73),(48.3,9.48),(59.9,9.35),(66.9,9.1),(69.2,9.48),(72.7,9.23),(75.6,9.35),(80,8.98),(80,4.99),(65.7,5.11),(54,5.24),(45.3,5.24),(40.1,4.86),(35.5,4.61),(33.1,4.18),(32.3,3.62),(29.7,3.49),(27.3,4.11),(25,4.86),(23.3,5.05)]
k_q2 = [(26.5,5.99),(26.7,6.23),(31.4,7.48),(35.5,8.73),(39,9.41),(42.4,9.41),(48.3,9.23),(54.7,9.35),(59.9,9.1),(66.9,8.79),(69.8,8.98),(73.3,8.54),(75.9,8.85),(80,8.6),(80,5.99),(69.2,6.05),(61.6,6.17),(55.8,5.99),(50.6,5.55),(44.8,5.05),(39,4.61),(33.1,4.55),(30.2,4.43),(27.3,4.43),(26.7,4.99)]
k_q4 = [(27.3,5.92),(32,7.48),(35.5,8.35),(38.1,9.23),(42.2,9.35),(43.3,8.73),(47.1,8.42),(48.3,7.98),(57,7.48),(48.3,6.98),(42.4,6.67),(39.2,6.3),(39.5,5.86),(35.5,5.61),(30.8,5.36),(29.4,5.49)]
k_q5 = [(28.8,6.17),(31.4,6.86),(34.9,8.1),(37.2,8.73),(39,9.1),(39.2,8.73),(37.2,8.48),(37.2,7.79),(42.4,8.1),(45.9,8.04),(49.1,7.61),(47.7,7.23),(42.4,7.05),(38.9,6.61),(36.6,6.11),(36,5.86),(32,5.61),(30.2,5.74)]
k_q7a = [(29.1,6.11),(30.8,6.67),(33.1,6.73),(33.7,6.36),(33.1,5.86),(30.8,5.74)]
k_q7b = [(33.1,6.86),(35.5,7.23),(36.3,6.98),(34,6.61)]
k_q7c = [(36.6,7.23),(37.8,7.36),(38.1,7.21),(37,7.08)]
k_q7d = [(38.2,7.54),(39.2,7.61),(39.2,7.42)]
k_q7e = [(40.7,7.54),(41.9,7.67),(41.9,7.48)]
k_h6up = [(20,5.05),(25,6.61),(31.4,8.1),(33.1,8.73),(35.5,9.6),(37.8,10.22),(41.9,10.25),(44.2,10.04),(46.5,10.04),(48.3,10.22),(54.7,10.35),(59.3,10.41),(62.8,10.79),(66.9,10.79),(69.8,11.28),(72.7,11),(75.9,11.7),(79.4,11.35)]
k_h6lo = [(20,5.05),(21.5,4.8),(23.8,4.36),(25.6,3.62),(27.9,3.12),(30.2,2.99),(32.3,3.12),(33.1,3.37),(36,3.68),(43,4.36),(47.1,4.24),(50.6,4.61),(55.8,4.64),(59.9,4.18),(62.8,4.3),(66.3,4.05)]
k_h6end = [(76.7,3.99),(79.4,3.93)]
k_h7up = [(21.2,5.3),(23.3,5.99),(30.8,7.86),(34.3,8.85),(36.6,9.66),(39,9.98),(42.4,10.04),(44.2,9.73),(46.5,9.75),(48.8,10.04),(58.1,9.91),(62.8,10.35),(66.9,10.16),(69.8,10.72),(73,10.35),(75.9,10.87),(79.4,10.6)]
k_h7lo = [(21.2,5.3),(24.4,4.99),(27.9,4.24),(30.2,4.3),(33.7,4.93),(39.5,4.93),(41.9,5.17),(51.2,5.17),(63.7,5.05)]
k_h7end = [(74.4,4.68),(79.4,4.61)]
k_h8up = [(26.5,5.8),(29.7,6.73),(34.3,8.1),(37.8,9.16),(41.9,9.39),(47.7,9.23),(53.5,9.51),(59.9,9.2),(66.9,8.85),(69.8,9.16),(73,8.91),(75.9,9.16),(79.4,9.04)]
k_h8lo = [(26.5,5.8),(30.8,5.55),(34.9,5.67),(40.7,6.05),(44.2,6.17),(48.3,6.08),(54.1,5.84),(61.3,5.8)]
k_h8end = [(72.1,5.57),(79.4,5.39)]
k_r40 = [(18.3,7.65),(30,7.6),(50,7.62),(60,7.58),(80,7.68)]
k_r0 = [(10,1.9),(18,1.9),(19,2.05),(23,2.05),(24.5,1.88),(30,1.85),(80,1.87)]

# (h) N=3000 severe, last panel
l_q005 = [(14.3,5),(17.4,6.06),(20.7,7.31),(26.3,9.56),(29.6,10.31),(33.6,10.63),(37.7,10.31),(50.6,10.5),(55.5,10.84),(59.6,10.75),(63.6,10.91),(70.1,11.06),(73.3,11.31),(80,11.38),(80,2.88),(74.1,2.44),(71.7,2.25),(63.6,2.25),(57.1,2.31),(36,2.56),(35.9,2),(30.8,2),(24.7,2.25),(28,3.25),(26.7,3.25),(23.9,3.03),(21.9,3.06),(19.9,3.94),(15.8,4.81)]
l_q01 = [(14.9,5),(17.4,5.95),(20.7,7.2),(26.3,9.45),(29.6,10.2),(33.6,10.5),(37.7,10.2),(50,10.3),(55,10.5),(60,10.5),(64,10.6),(70,10.85),(74,11.05),(80,11.1),(80,3.1),(74,2.8),(72,2.65),(64,2.35),(57,2.45),(38,2.6),(33.2,2.81),(34,2.31),(32,2),(25.9,2.44),(28,3.25),(26.7,3.25),(23.9,3.13),(22.3,3.25),(20.3,3.94),(16.2,4.94)]
l_q1 = [(16.6,5.56),(18.2,6.06),(26.3,8.94),(30.4,10.06),(34.4,10.19),(39.3,9.88),(49,9.69),(57.9,9.75),(62.8,9.44),(64.4,9.69),(75,9.56),(77.4,10),(80,10.06),(80,4.56),(50.6,4.56),(42.5,4.31),(32,4.13),(28.8,3.75),(23.9,3.56),(21.5,3.88),(19,4.81)]
l_q2 = [(18.6,6.19),(21.5,7.31),(28.8,9.56),(33.6,10),(37,9.69),(44.2,9.19),(50.6,9.5),(58.8,9.44),(63.6,9.19),(70.9,9.31),(80,9.13),(80,6.31),(75,6.25),(64.4,6.19),(54.3,6.19),(53.1,6.5),(45.8,6.19),(34.4,5.69),(27.6,5.19),(29.6,4.94),(28,4.31),(25.5,3.94),(23.1,4.31),(19.9,5.06)]
l_q4a = [(20.7,6.19),(23,7.6),(28.8,9.56),(33.6,9.63),(39.3,9.13),(44.2,9),(49.8,9),(53.9,8.81),(57.1,8.5),(53.1,8.06),(46.6,7.56),(39.3,6.94),(32.8,6.31),(23.9,5.38),(21.1,5.69)]
l_q5 = [(21.1,6.56),(26.3,8.69),(30.4,9.63),(34.4,9.56),(39.3,8.94),(42.5,8.44),(49,8.75),(49.8,8.5),(44.2,7.94),(39.3,7.19),(32,6.56),(28,6.06),(23.9,5.56),(21.5,5.94)]
l_q4b = [(33.6,8.5),(38.9,8.94),(43.8,8.94),(42.5,8.75),(39.3,8.38),(36.9,8.13)]
l_q7 = [(21.9,6.81),(23.9,7.44),(26.3,8.44),(28.8,9.06),(31.6,8.81),(29.2,8.19),(28.8,7.56),(25.5,6.94),(23.1,6.31),(21.9,6.63)]
l_h6up = [(14.6,5),(16.2,5.94),(19,6.81),(21.5,7.81),(23.9,8.94),(28.8,10.19),(31.2,10.5),(33.6,10.59),(37.7,10.25),(40.9,10.44),(50.6,10.5),(54.7,10.75),(59.6,10.88),(65.2,11.25),(68.5,11.25),(72.5,11.63),(76.6,11.88),(79.4,11.94)]
l_h6lo = [(14.6,5),(16.6,4.81),(19.9,4),(21.9,3.25),(23.5,3.13),(26.3,3.38),(29.2,3.69),(32.8,3.56),(40.1,3.88),(47.8,4.31),(53.1,4.31),(58.8,3.88),(65.6,3.79)]
l_h6end = [(76.6,3.75),(79.4,3.75)]
l_h7up = [(15.8,5.31),(17.4,6.06),(21.5,7.44),(25.5,8.94),(29.6,10.06),(33.6,10.31),(38.9,9.94),(44.2,9.81),(50.6,10.06),(54.7,10.25),(65.2,10.75),(69.3,10.69),(72.5,11.06),(79.4,11.25)]
l_h7lo = [(15.8,5.31),(16.6,4.94),(21.5,4.38),(25.5,3.94),(28,4.31),(29.6,4.88),(35.3,4.63),(42.5,4.94),(49,5),(57.1,4.69),(63.2,4.38)]
l_h7end = [(74.6,4.44),(79.4,4.44)]
l_h8up = [(19,6.31),(23.1,7.81),(28.8,9.44),(33.6,9.75),(38.5,9.44),(43.4,9.19),(49,9.75),(55.5,9.81),(62.8,9.5),(65.2,9.81),(74.1,9.75),(77.4,10.13),(79.4,10.06)]
l_h8lo = [(19,6.31),(19.9,5.81),(23.9,5.25),(28,5.63),(32,5.69),(36.9,6),(44.2,6.06),(52.3,5.69),(56.3,5.63),(61.2,5.44)]
l_h8end = [(72.1,5.19),(79.4,5)]
l_h9up = [(36.9,7.81),(39.3,8.38),(45.8,8.94),(54.7,9.19),(64.4,8.88),(70.1,8.75),(79.4,8.69)]
l_h9lo = [(36.9,7.81),(39.3,7.63),(50.6,7.56),(61.2,7.44),(65.6,7.44)]
l_h9end = [(76.6,7.44),(79.4,7.5)]
l_r40 = [(18.3,7.62),(24,7.56),(32,7.65),(60,7.6),(68,7.66),(80,7.68)]
l_r0 = [(9.8,2.1),(20.5,2.12),(22.2,1.88),(80,1.87)]

# which polygons and lines go in each panel; number is the index into q_colors
panel_fills = [
    [(0,a_q005),(1,a_q01),(2,a_q1a),(2,a_q1b),(3,a_q2)],
    [(0,b_q005),(1,b_q01),(2,b_q1a),(2,b_q1b)],
    [(0,c_q005),(1,c_q01),(2,c_q1a),(2,c_q1b)],
    [(0,d_q005),(1,d_q01),(2,d_q1)],
    [(0,e_q005),(1,e_q01),(2,e_q1a),(2,e_q1b)],
    [(0,f_q005),(1,f_q01),(2,f_q1),(3,f_q2a),(3,f_q2b),(5,f_q4)],
    [(0,g_q005),(1,g_q01),(2,g_q1),(3,g_q2)],
    [(0,h_q005),(1,h_q01),(2,h_q1),(1,h_q01b),(3,h_q2)],
    [(0,i_q005),(1,i_q01),(2,i_q1),(3,i_q2),(5,i_q4a),(5,i_q4b),(6,i_q5a),(6,i_q5b)],
    [(0,j_q005),(1,j_q01),(2,j_q1),(3,j_q2)],
    [(0,k_q005),(1,k_q01),(2,k_q1),(3,k_q2),(5,k_q4),(6,k_q5),(7,k_q7a),(7,k_q7b),(7,k_q7c),(7,k_q7d),(7,k_q7e)],
    [(0,l_q005),(1,l_q01),(2,l_q1),(3,l_q2),(5,l_q4a),(6,l_q5),(5,l_q4b),(7,l_q7)],
]
panel_lines = [
    [a_h6up,a_h6lo,a_h6end,a_h7up,a_h7lo,a_h7end,a_h8up,a_h8lo,a_h8end,a_loop],
    [b_h6up,b_h6lo,b_h6end,b_h7a,b_h7b,b_h7c],
    [c_h6up,c_h6lo,c_h7,c_h6b,c_h6end],
    [d_h6up,d_h6lo,d_h6end],
    [e_h6up,e_h6lo,e_h6end,e_h7a,e_h7b,e_h7up,e_h7lo,e_h7end],
    [f_h6up,f_h6lo,f_h6end,f_h7up,f_h7lo,f_h7end,f_h8up,f_h8lo],
    [g_h6up,g_h6lo,g_h6end,g_h7up,g_h7lo,g_h7end],
    [h_h6up,h_h6lo,h_h6end,h_h7up,h_h7lo,h_h7end],
    [i_h6up,i_h6lo,i_h6end,i_h7up,i_h7lo,i_h7end,i_h8up,i_h8lo,i_h8end,i_loop],
    [j_h6up,j_h6lo,j_h6end,j_h7up,j_h7lo,j_h7end,j_h8up,j_h8lo,j_h8end],
    [k_h6up,k_h6lo,k_h6end,k_h7up,k_h7lo,k_h7end,k_h8up,k_h8lo,k_h8end],
    [l_h6up,l_h6lo,l_h6end,l_h7up,l_h7lo,l_h7end,l_h8up,l_h8lo,l_h8end,l_h9up,l_h9lo,l_h9end],
]
panel_blobs = [[a_blob], [], [], [], [], [], [], [h_blob], [], [j_blob], [], []]
panel_r40 = [a_r40, b_r40, c_r40, d_r40, e_r40, f_r40, g_r40, h_r40, i_r40, j_r40, k_r40, l_r40]
panel_r0 = [a_r0, b_r0, c_r0, d_r0, e_r0, f_r0, g_r0, h_r0, i_r0, j_r0, k_r0, l_r0]

# contour labels: time, height, exponent, rotation
panel_labels = [
    [(67,7.0,8,0),(69.5,5.6,7,0),(72,4.8,6,-8)],
    [(70.5,6.4,6,0)],
    [(71,6.05,6,0)],
    [(71.5,4.85,6,0)],
    [(69,6.65,7,-5),(70.8,5.2,6,0)],
    [(69,5.4,7,0),(72,4.55,6,0)],
    [(69.2,5.95,7,0),(71.5,4.8,6,0)],
    [(69,6.0,7,-8),(71,4.65,6,0)],
    [(67,6.05,8,-5),(69.2,4.85,7,-5),(71.5,3.85,6,-5)],
    [(66.7,6.35,8,0),(69,5.0,7,0),(70.8,4.4,6,0)],
    [(67,5.5,8,-10),(69,4.6,7,-10),(70.8,3.95,6,-15)],
    [(66.7,5.2,8,0),(69,4.2,7,0),(71.5,3.6,6,-5),(71,7.35,9,0)],
]

# axes layout in pixels
FIG_W, FIG_H = 3662, 3583
COL_LEFT = [224, 1246, 2269]
ROW_TOP = [49, 908, 1768, 2628]
AX_W, AX_H = 921, 755
N_X = [10.8, 10.8, 10.8, 10.5, 10.5, 9.8, 10.5, 10.8, 9.2, 9.0, 10.8, 10.8]
INFO_X = [10.6, 11.8, 10.9, 10.6, 11.8, 10.9, 10.6, 11.8, 10.9, 10.6, 11.8, 10.9]
ROT_0 = [0, 0, -20, 0, 0, -20, 0, 0, -20, 0, 0, -20]
BLACK_LW = 6.5
RED_LW = 6.8
FONT = 43
AXIS_FONT = 47

fig = plt.figure(figsize=(FIG_W / 100, FIG_H / 100), dpi=100)

for i in range(12):
    col = i % 3
    row = i // 3
    ax = fig.add_axes([COL_LEFT[col] / FIG_W, 1 - (ROW_TOP[row] + AX_H) / FIG_H, AX_W / FIG_W, AX_H / FIG_H])

    for idx, poly in panel_fills[i]:
        ax.fill(*zip(*poly), color=q_colors[idx], lw=0, zorder=2)
    for blob in panel_blobs[i]:
        ax.fill(*zip(*blob), color="k", lw=0, zorder=3)
    for line in panel_lines[i]:
        ax.plot(*zip(*line), color="k", lw=BLACK_LW, solid_joinstyle="round", zorder=3)

    # red isotherm lines, the stubs left of the labels sit at the first height
    r40 = panel_r40[i]
    r0 = panel_r0[i]
    ax.plot(*zip(*r40), color="#ff0000", lw=RED_LW, zorder=4)
    ax.plot(*zip(*r0), color="#ff0000", lw=RED_LW, zorder=4)
    ax.plot([0.9, 5.4], [r40[0][1], r40[0][1]], color="#ff0000", lw=RED_LW, zorder=4)
    ax.plot([0.9, 4.0], [r0[-1][1] + 0.03, r0[-1][1] + 0.03], color="#ff0000", lw=RED_LW, zorder=4)
    ax.text(7, 7.45, "\u221240", color="#ff0000", fontsize=FONT, va="center", ha="left", zorder=4)
    ax.text(6.9, 1.72, "0", color="#ff0000", fontsize=FONT, va="center", ha="center", rotation=ROT_0[i], zorder=4)

    for t, z, e, rot in panel_labels[i]:
        ax.text(t, z, "10$^{%d}$" % e, fontsize=FONT, ha="center", va="center", rotation=rot, zorder=5)
    if i == 2:
        ax.text(31.5, 9.4, "10", fontsize=FONT, ha="center", va="center", rotation=62, zorder=5)

    ax.set_xlim(0, 80)
    ax.set_ylim(0, 15)
    ax.set_xticks(range(0, 81, 20))
    ax.set_xticks(range(0, 81, 5), minor=True)
    ax.set_yticks(range(0, 15, 2))
    ax.set_yticks(range(0, 15), minor=True)
    ax.tick_params(which="major", direction="in", top=True, right=True, length=17, width=7,
                   labelsize=FONT, pad=24)
    ax.tick_params(which="minor", direction="in", top=True, right=True, length=9, width=4)
    ax.tick_params(axis="y", which="major", pad=8)
    # IDL pushes the bottom label up so it clears the axis
    ax.get_yticklabels()[0].set_va("bottom")
    for sp in ax.spines.values():
        sp.set_linewidth(8.5)
        sp.set_zorder(6)

    ax.text(1.2, 13.85, titles[i], fontsize=FONT, va="center", zorder=7)
    ax.text(N_X[i], 13.85, "N=%s   %s" % (n_values[i], strengths[i]), fontsize=FONT, va="center", zorder=7)
    ax.text(INFO_X[i], 12.35, "Qi  Ave:  %s   g  kg$^{-1}$" % qi_ave[i], fontsize=FONT, va="center", zorder=7)
    ax.text(INFO_X[i], 10.9, "Hi  Ave:  %s*10$^{%s}$  kg$^{-1}$" % (hi_mant[i], hi_exp[i]), fontsize=FONT, va="center", zorder=7)

    if row == 3:
        ax.set_xlabel("Time/min", fontsize=AXIS_FONT, labelpad=8)
    if col == 0:
        ax.set_ylabel("Z/km", fontsize=AXIS_FONT, labelpad=22)

# colour bar
cax = fig.add_axes([3291 / FIG_W, 1 - 2971 / FIG_H, 91 / FIG_W, 2408 / FIG_H])
sm = ScalarMappable(norm=BoundaryNorm(q_levels, len(q_colors)), cmap=ListedColormap(q_colors))
cb = fig.colorbar(sm, cax=cax, boundaries=q_levels, spacing="uniform", drawedges=True, ticks=q_levels)
cb.dividers.set_color("k")
cb.dividers.set_linewidth(3)
cb.outline.set_linewidth(3)
cb.ax.minorticks_off()
cb.ax.tick_params(length=19, width=3, labelsize=52, pad=167)
cb.ax.set_yticklabels(["%.2f" % v for v in q_levels], ha="right")
for lab in cb.ax.get_yticklabels():
    lab.set_transform(lab.get_transform() + ScaledTranslation(0, -0.10, fig.dpi_scale_trans))
fig.text(3483 / FIG_W, 1 - 303 / FIG_H, "g  kg$^{-1}$", fontsize=50, ha="center", va="center")

fig.savefig("out.png", dpi=100)
